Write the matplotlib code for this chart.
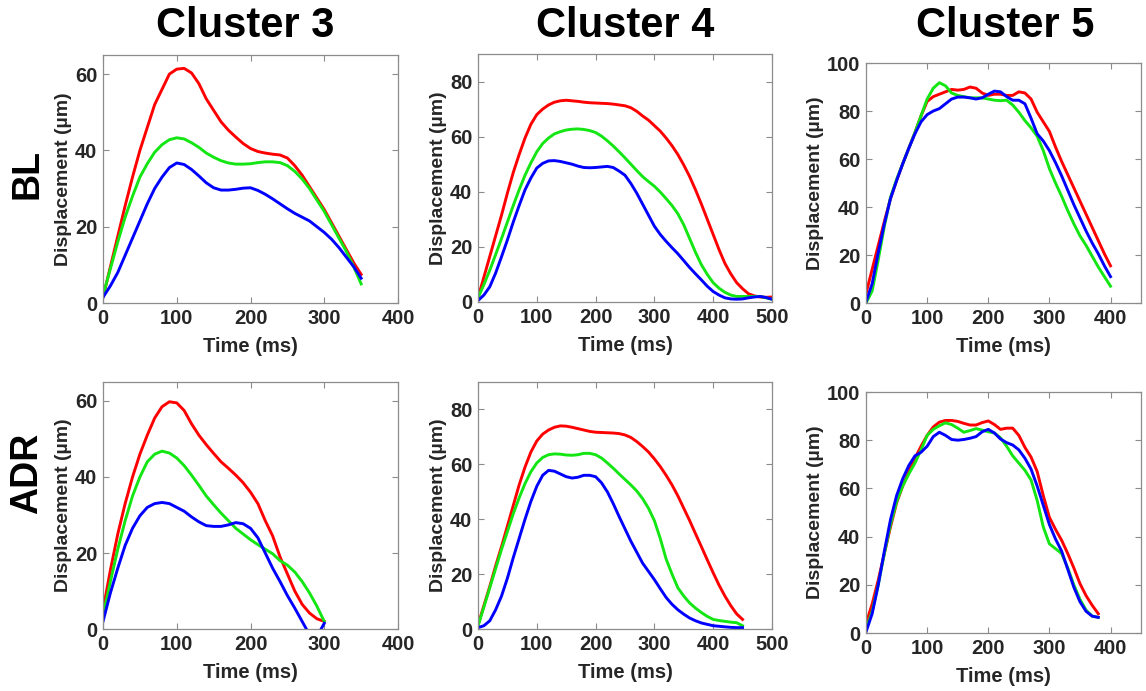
import numpy as np
import matplotlib.pyplot as plt

plt.rcParams['font.family'] = ['Liberation Sans', 'DejaVu Sans']
plt.rcParams['font.weight'] = 'bold'

RED = '#ff0000'
GREEN = '#14e614'
BLUE = '#0000ff'

# Cluster 3, BL
t_c3_bl = list(range(0, 351, 10))
red_c3_bl = [1.5, 9.5, 17.5, 25.5, 33, 40, 46, 52, 56, 60,
             61.3, 61.5, 60.3, 57.5, 53.5, 50.5, 47.5, 45.3, 43.5, 41.8,
             40.5, 39.7, 39.3, 39, 38.8, 38, 36, 33.5, 30.5, 27.5,
             24.5, 21, 17.5, 14, 10.5, 7.5]
green_c3_bl = [2, 9, 16, 22.5, 28, 33, 36.5, 39.5, 41.5, 42.8,
               43.3, 43, 42, 40.8, 39.3, 38.2, 37.3, 36.7, 36.4, 36.4,
               36.5, 36.8, 37, 37, 36.8, 36, 34.5, 32.5, 30, 27,
               24, 20.5, 17, 13.5, 9.5, 5]
blue_c3_bl = [1.5, 4.5, 8, 12.5, 17, 21.5, 26, 30, 33, 35.5,
              36.7, 36.3, 35, 33.3, 31.5, 30.2, 29.6, 29.6, 29.8, 30.1,
              30.2, 29.5, 28.5, 27.3, 26, 24.7, 23.5, 22.5, 21.5, 20,
              18.5, 16.7, 14.5, 12, 9.5, 6.5]

# Cluster 3, ADR
t_c3_adr = list(range(0, 301, 10))
red_c3_adr = [5, 15.5, 25, 33, 40, 46, 51, 55.5, 58.5, 59.8,
              59.5, 57.5, 54, 51, 48.5, 46.2, 44, 42.3, 40.5, 38.5,
              36, 33, 28.5, 24.5, 19, 14.5, 10, 6.5, 4.2, 2.7,
              2]
green_c3_adr = [3.5, 12.5, 21, 28.5, 35, 40, 44, 46, 46.8, 46.3,
                45, 43, 40.5, 37.8, 35, 32.7, 30.5, 28.5, 26.5, 25,
                23.5, 22.2, 21, 19.8, 18, 16.8, 15, 12.5, 9.5, 6,
                2]
blue_c3_adr = [2, 9.5, 16, 22, 26.5, 29.8, 32, 33, 33.3, 33,
               32, 31, 29.5, 28.2, 27.2, 27, 27, 27.4, 28, 27.7,
               26.5, 24, 20, 16, 12.5, 8.8, 5.5, 2, -1.5, -2,
               1.5]

# Cluster 4, BL
t_c4_bl = list(range(0, 501, 10))
red_c4_bl = [1.5, 9, 16.5, 24, 31.5, 39.5, 47, 53.5, 59.5, 64.5,
             68, 70, 71.5, 72.5, 73, 73.2, 73, 72.8, 72.5, 72.3,
             72.2, 72.1, 72, 71.8, 71.5, 71.2, 70.5, 69.2, 67.5, 66,
             64, 62, 59.5, 56.7, 53.5, 49.7, 45.5, 40.7, 35.5, 30,
             24.5, 19, 14, 10.2, 7, 4.8, 3, 2.2, 1.8, 1.7,
             1.8]
green_c4_bl = [1.5, 6.3, 11.5, 17.2, 23, 29, 35, 40.7, 46, 50.5,
               54.5, 57.5, 59.5, 61, 61.8, 62.4, 62.7, 62.8, 62.6, 62.2,
               61.5, 60.2, 58.5, 56.6, 54.5, 52.3, 50, 47.7, 45.5, 43.7,
               42, 39.9, 37.5, 35, 32, 28, 23, 18, 13.5, 10,
               7, 5, 3.5, 2.5, 2, 2, 2, 2, 2, 1.5,
               1]
blue_c4_bl = [0.5, 2.5, 5.5, 10.5, 16.4, 22.5, 29, 35, 40.7, 45,
              48.6, 50.3, 51.2, 51.3, 51, 50.5, 50, 49.3, 48.8, 48.7,
              48.8, 49, 49.2, 48.8, 47.5, 46, 43, 39.5, 35.5, 31.5,
              27.5, 24.5, 22, 19.7, 17.5, 15, 12.5, 10.2, 8, 5.7,
              3.8, 2.5, 1.5, 1.1, 1, 1.1, 1.5, 1.8, 2, 1.6,
              1]

# Cluster 4, ADR
t_c4_adr = list(range(0, 451, 10))
red_c4_adr = [1.5, 8.5, 15.5, 23, 30, 37.5, 45, 52.5, 59, 64.5,
              68.5, 71, 72.5, 73.5, 74, 73.9, 73.5, 73, 72.5, 72,
              71.7, 71.6, 71.5, 71.4, 71.2, 70.7, 69.8, 68.3, 66.5, 64.5,
              62, 59.2, 56, 52.5, 48.5, 44, 39.5, 34.7, 30, 25.2,
              20.5, 16, 12, 8.5, 5.5, 3.5]
green_c4_adr = [1, 8, 15, 22, 29, 35.5, 42, 47.8, 53, 57.3,
                60.5, 62.5, 63.5, 63.8, 63.7, 63.4, 63.3, 63.5, 64, 64,
                63.5, 62.3, 60.5, 58.6, 56.5, 54.5, 52.5, 50.3, 47.5, 44,
                39.5, 33, 25.5, 20, 15, 12, 9.5, 7.6, 6, 4.6,
                3.5, 3.1, 2.8, 2.5, 2.3, 1.2]
blue_c4_adr = [0.5, 1.2, 3, 7, 12, 18.5, 26, 33, 40, 46.5,
               52, 56, 57.8, 57.5, 56.5, 55.5, 55, 55.3, 56, 56,
               55.5, 53.3, 50, 45.7, 41, 36.5, 32, 28, 24, 21,
               18, 14.7, 11.5, 9, 7, 5.4, 4, 3, 2.2, 1.7,
               1.2, 1, 0.8, 0.6, 0.5, 0.5]

# Cluster 5, BL
t_c5_bl = list(range(0, 401, 10))
red_c5_bl = [4, 14, 24, 34, 43.5, 51, 58, 64.5, 71, 78, 84, 86, 87, 88, 89, 88.7, 89, 90, 89.5,
             87.5, 86.5, 87, 87, 86.5, 86.5, 88, 87.5, 85, 79.5, 75.5, 71.5, 65, 59, 53.5, 48,
             42.5, 37, 31.5, 26, 20.5, 15.5]
green_c5_bl = [0, 5, 18, 32, 44, 51.5, 58, 64.5, 71, 78, 85, 89.5, 91.8, 90.5, 87.5, 86.5, 86,
               85.5, 85.5, 85.5, 85, 84.5, 84.3, 84.5, 82.5, 79.5, 76, 73, 69.5, 63.5, 56, 50,
               44.5, 38.5, 33, 28, 24, 19.5, 15, 11, 7]
blue_c5_bl = [0.5, 8, 21, 33, 43.5, 51, 58, 64.5, 70.5, 75.5, 78.5, 80, 81, 83, 85, 85.8, 85.8,
              85.5, 85, 85.5, 87, 88.3, 88, 86, 84.5, 84.5, 83, 77, 70.5, 67.5, 63.5, 58.5, 53,
              47, 41, 35.5, 30, 25, 20.5, 15.5, 11]

# Cluster 5, ADR
t_c5_adr = list(range(0, 381, 10))
red_c5_adr = [4, 12, 22, 33, 44, 54, 61, 67, 72.5, 77.5, 82, 85.5, 87.5, 88.2, 88.2, 87.8, 87,
              86.3, 86.3, 87.3, 88, 86.5, 84.5, 85, 85, 82, 77, 73, 67, 57, 48, 43, 38.5, 33, 27,
              20.5, 15.5, 11.5, 8]
green_c5_adr = [1.5, 9, 20, 33, 45, 54.5, 61, 66, 70.5, 76, 82, 84.5, 86, 87.2, 86.5, 85, 83.3,
                84, 84.8, 84.2, 83.5, 83, 81, 77.5, 73.5, 70.5, 67.5, 63.5, 55, 44, 37, 35, 33,
                27, 20, 14, 9.5, 7, 6.5]
blue_c5_adr = [0.5, 8, 20, 34, 47, 57, 64, 69.5, 73.5, 75, 77.5, 81.5, 83.3, 82, 80.3, 80, 80.3,
               80.8, 81.5, 83.5, 84.5, 83, 80.5, 79, 78, 76, 72.5, 68, 61, 53, 45, 39, 34, 26.5,
               19, 13, 9, 7, 6.5]

col_titles = ['Cluster 3', 'Cluster 4', 'Cluster 5']
row_titles = ['BL', 'ADR']


def draw_panel(rect, t, red, green, blue, xmax, ymax, xticks, yticks):
    ax = fig.add_axes(rect)
    ax.plot(t, red, color=RED, lw=2.1)
    ax.plot(t, green, color=GREEN, lw=2.1)
    ax.plot(t, blue, color=BLUE, lw=2.1)
    ax.set_xlim(0, xmax)
    ax.set_ylim(0, ymax)
    ax.set_xticks(xticks)
    ax.set_yticks(yticks)
    ax.tick_params(direction='in', top=True, right=True, length=4, width=0.8,
                   color='#8c8c8c', labelsize=14.5, labelcolor='#262626', pad=4)
    for lbl in ax.get_xticklabels() + ax.get_yticklabels():
        lbl.set_fontweight('bold')
    for sp in ax.spines.values():
        sp.set_color('#8c8c8c')
        sp.set_linewidth(0.9)
    ax.set_xlabel('Time (ms)', fontsize=14.5, fontweight='bold', color='#262626', labelpad=7)
    ax.set_ylabel('Displacement (µm)', fontsize=14, fontweight='bold', color='#262626', labelpad=2)
    return ax


fig = plt.figure(figsize=(11.46, 6.91), dpi=100)

draw_panel([0.0899, 0.5615, 0.2574, 0.3589], t_c3_bl, red_c3_bl, green_c3_bl, blue_c3_bl,
           400, 65, [0, 100, 200, 300, 400], [0, 20, 40, 60])
draw_panel([0.4171, 0.5630, 0.2565, 0.3589], t_c4_bl, red_c4_bl, green_c4_bl, blue_c4_bl,
           500, 90, [0, 100, 200, 300, 400, 500], [0, 20, 40, 60, 80])
draw_panel([0.7557, 0.5615, 0.2400, 0.3473], t_c5_bl, red_c5_bl, green_c5_bl, blue_c5_bl,
           450, 100, [0, 100, 200, 300, 400], [0, 20, 40, 60, 80, 100])
draw_panel([0.0899, 0.0897, 0.2574, 0.3575], t_c3_adr, red_c3_adr, green_c3_adr, blue_c3_adr,
           400, 65, [0, 100, 200, 300, 400], [0, 20, 40, 60])
draw_panel([0.4171, 0.0897, 0.2565, 0.3575], t_c4_adr, red_c4_adr, green_c4_adr, blue_c4_adr,
           500, 90, [0, 100, 200, 300, 400, 500], [0, 20, 40, 60, 80])
draw_panel([0.7557, 0.0839, 0.2400, 0.3488], t_c5_adr, red_c5_adr, green_c5_adr, blue_c5_adr,
           450, 100, [0, 100, 200, 300, 400], [0, 20, 40, 60, 80, 100])

# column and row headings
for x, s in zip([245 / 1146, 625 / 1146, 1005 / 1146], col_titles):
    fig.text(x, 1 - 26 / 691, s, fontsize=30, fontweight='bold', ha='center', va='center')
for y, s in zip([1 - 174 / 691, 1 - 473 / 691], row_titles):
    fig.text(27 / 1146, y, s, fontsize=27, fontweight='bold', ha='center', va='center',
             rotation=90)

fig.savefig('out.png', dpi=100)
